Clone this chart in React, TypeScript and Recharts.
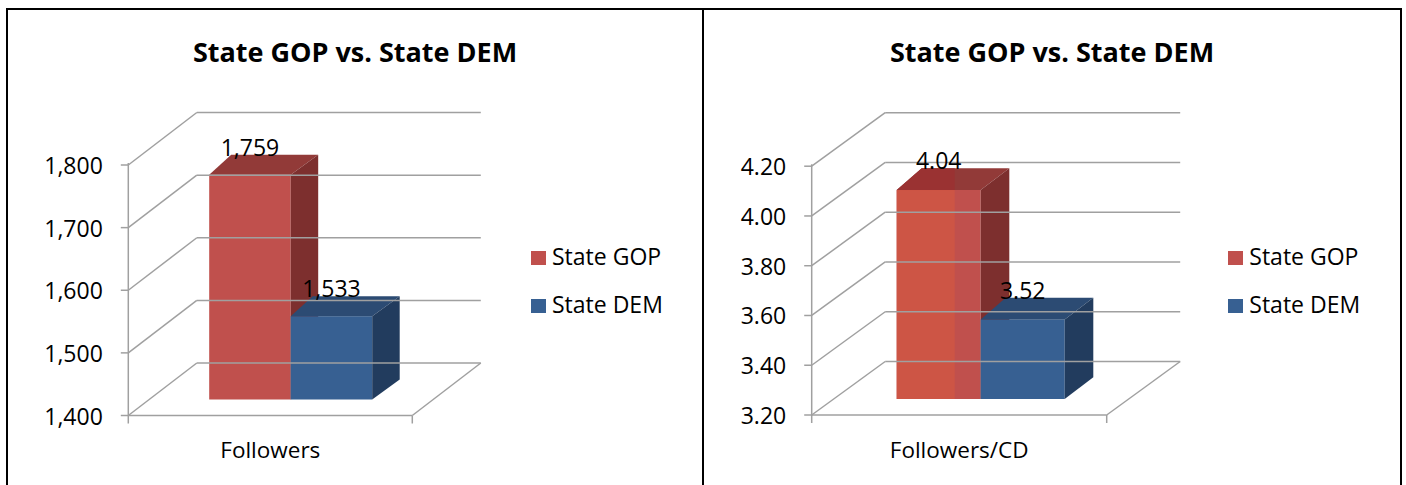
import React from 'react';
import { BarChart, Bar, XAxis, YAxis, LabelList } from 'recharts';

const chartTitle = 'State GOP vs. State DEM';
const seriesNames = ['State GOP', 'State DEM'];

const followerCategories = ['Followers'];
const gopFollowers = [1759];
const demFollowers = [1533];
const followerTicks = [1400, 1500, 1600, 1700, 1800];

const perCdCategories = ['Followers/CD'];
const gopPerCd = [4.04];
const demPerCd = [3.52];
const perCdTicks = [3.2, 3.4, 3.6, 3.8, 4.0, 4.2];

const FONT = "'Open Sans', sans-serif";
const GRID = '#a0a0a0';

const gopColors = { front: '#c0504d', light: '#cd5545', top: '#923a38', topLight: '#9a3232', side: '#7d2f2e' };
const demColors = { front: '#376092', light: '#376092', top: '#2c4b73', topLight: '#2c4b73', side: '#223c5e' };

// geometry of the fake 3d frame: bar plane = plot area, front/back planes are shifted copies
const leftGeo = {
  width: 694,
  height: 480,
  plot: { left: 141.2, top: 139, right: 425.2, bottom: 389.5 },
  front: { dx: -20.9, dy: 16 },
  back: { dx: 47.6, dy: -36.5 },
  box: { dxL: 22, dxR: 27.5, dy: 20 },
  barSize: 81.5,
  legendX: 523,
};

const rightGeo = {
  width: 696,
  height: 480,
  plot: { left: 129.7, top: 140.2, right: 424.7, bottom: 389 },
  front: { dx: -22, dy: 16 },
  back: { dx: 51.5, dy: -37.5 },
  box: { dxL: 25, dxR: 28.6, dy: 21.7 },
  barSize: 84,
  legendX: 524.3,
};

const AXIS_W = 10;

function makeBox(colors, box, split) {
  return (props) => {
    const { x, y, width: w, height: h } = props;
    if (w == null || h == null) return null;
    const { dxL, dxR, dy } = box;
    const xs = x + w * split;
    return (
      <g>
        <rect x={x} y={y} width={w} height={h} fill={colors.front} />
        {split < 1 && <rect x={x} y={y} width={xs - x} height={h} fill={colors.light} />}
        <polygon
          points={`${x},${y} ${x + w},${y} ${x + w + dxR},${y - dy} ${x + dxL},${y - dy}`}
          fill={colors.top}
        />
        {split < 1 && (
          <polygon points={`${x},${y} ${xs},${y} ${xs},${y - dy} ${x + dxL},${y - dy}`} fill={colors.topLight} />
        )}
        <polygon
          points={`${x + w},${y} ${x + w + dxR},${y - dy} ${x + w + dxR},${y + h - dy} ${x + w},${y + h}`}
          fill={colors.side}
        />
      </g>
    );
  };
}

function Panel({ categories, gop, dem, ticks, fmt, geo, gopSplit, divider }) {
  const data = categories.map((name, i) => ({ name, gop: gop[i], dem: dem[i] }));
  const { plot, front, back, box } = geo;
  const plotH = plot.bottom - plot.top;

  const renderYTick = (props) => {
    const { y, payload, index } = props;
    const fx = plot.left + front.dx;
    const fy = y + front.dy;
    const bx = plot.left + back.dx;
    const bx2 = plot.right + back.dx;
    const by = y + back.dy;
    return (
      <g key={`yt-${index}`}>
        {index === 0 && <line x1={fx} y1={fy + 8} x2={fx} y2={fy - plotH - 2} stroke={GRID} strokeWidth={1.5} />}
        <line x1={fx - 7.5} y1={fy} x2={fx} y2={fy} stroke={GRID} strokeWidth={1.5} />
        <line x1={fx} y1={fy} x2={bx} y2={by} stroke={GRID} strokeWidth={1.5} />
        <line x1={bx} y1={by} x2={bx2} y2={by} stroke={GRID} strokeWidth={1.5} />
        <text x={fx - 25.5} y={fy + 9} textAnchor="end" fontFamily={FONT} fontSize={23} fill="#000">
          {fmt(payload.value)}
        </text>
      </g>
    );
  };

  const renderXTick = (props) => {
    const { x, y, payload, index } = props;
    const fx1 = plot.left + front.dx;
    const fx2 = plot.right + front.dx;
    const fy = y + front.dy;
    return (
      <g key={`xt-${index}`}>
        <line x1={fx1} y1={fy} x2={fx2} y2={fy} stroke={GRID} strokeWidth={1.5} />
        <line x1={fx2} y1={fy} x2={fx2} y2={fy + 8} stroke={GRID} strokeWidth={1.5} />
        <line x1={fx2} y1={fy} x2={plot.right + back.dx} y2={y + back.dy} stroke={GRID} strokeWidth={1.5} />
        <text x={x + front.dx} y={y + 58.5} textAnchor="middle" fontFamily={FONT} fontSize={22.5} fill="#000">
          {payload.value}
        </text>
      </g>
    );
  };

  const valueLabel = (props) => {
    const { x, y, width, value } = props;
    return (
      <text x={x + width / 2} y={y - box.dy + 1} textAnchor="middle" fontFamily={FONT} fontSize={23} fill="#000">
        {fmt(value)}
      </text>
    );
  };

  const legendItems = [
    { name: seriesNames[0], color: gopColors.front, top: 240.5 },
    { name: seriesNames[1], color: demColors.front, top: 288.5 },
  ];

  return (
    <div
      style={{
        position: 'relative',
        width: geo.width,
        height: geo.height,
        borderRight: divider ? '2px solid #000' : undefined,
      }}
    >
      <div
        style={{
          position: 'absolute',
          left: 0,
          top: 28.2,
          width: '100%',
          textAlign: 'center',
          fontFamily: FONT,
          fontWeight: 700,
          fontSize: 27,
          lineHeight: '27px',
          color: '#000',
        }}
      >
        {chartTitle}
      </div>
      <div style={{ position: 'absolute', left: 0, top: 0 }}>
        <BarChart
          width={geo.width}
          height={geo.height}
          data={data}
          barGap={0}
          margin={{
            top: plot.top,
            left: plot.left - AXIS_W,
            right: geo.width - plot.right,
            bottom: geo.height - plot.bottom - AXIS_W,
          }}
        >
          <XAxis
            dataKey="name"
            height={AXIS_W}
            axisLine={false}
            tickLine={false}
            tickSize={0}
            tickMargin={0}
            interval={0}
            tick={renderXTick}
          />
          <YAxis
            type="number"
            domain={[ticks[0], ticks[ticks.length - 1]]}
            ticks={ticks}
            interval={0}
            width={AXIS_W}
            axisLine={false}
            tickLine={false}
            tick={renderYTick}
          />
          <Bar dataKey="gop" name={seriesNames[0]} barSize={geo.barSize} isAnimationActive={false} shape={makeBox(gopColors, box, gopSplit)}>
            <LabelList dataKey="gop" content={valueLabel} />
          </Bar>
          <Bar dataKey="dem" name={seriesNames[1]} barSize={geo.barSize} isAnimationActive={false} shape={makeBox(demColors, box, 1)}>
            <LabelList dataKey="dem" content={valueLabel} />
          </Bar>
        </BarChart>
      </div>
      {legendItems.map((it) => (
        <div key={it.name}>
          <div
            style={{
              position: 'absolute',
              left: geo.legendX,
              top: it.top,
              width: 14.5,
              height: 14.5,
              background: it.color,
            }}
          />
          <div
            style={{
              position: 'absolute',
              left: geo.legendX + 21,
              top: it.top + 15 - 20.4,
              fontFamily: FONT,
              fontSize: 23,
              lineHeight: '23px',
              color: '#000',
              whiteSpace: 'nowrap',
            }}
          >
            {it.name}
          </div>
        </div>
      ))}
    </div>
  );
}

export default function App() {
  return (
    <div
      style={{
        position: 'absolute',
        left: 6,
        top: 8,
        display: 'flex',
        border: '2px solid #000',
        background: '#fff',
      }}
    >
      <Panel
        categories={followerCategories}
        gop={gopFollowers}
        dem={demFollowers}
        ticks={followerTicks}
        fmt={(v) => v.toLocaleString('en-US')}
        geo={leftGeo}
        gopSplit={1}
        divider
      />
      <Panel
        categories={perCdCategories}
        gop={gopPerCd}
        dem={demPerCd}
        ticks={perCdTicks}
        fmt={(v) => v.toFixed(2)}
        geo={rightGeo}
        gopSplit={0.69}
        divider={false}
      />
    </div>
  );
}
